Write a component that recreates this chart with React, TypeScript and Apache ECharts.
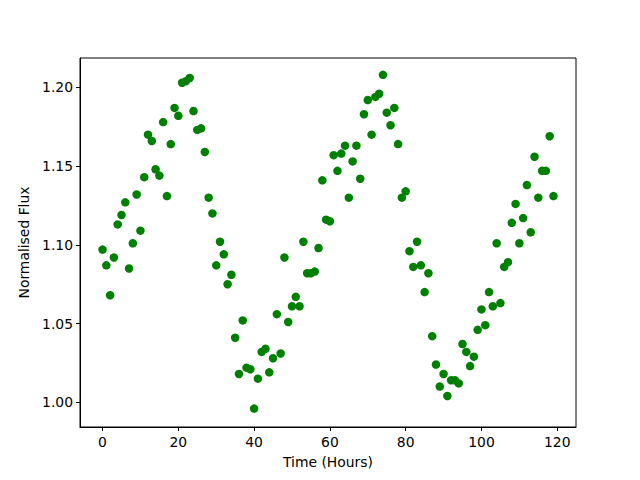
import React, { useEffect, useRef } from "react";
import * as echarts from "echarts";

const hours: number[] = Array.from({ length: 120 }, (_, i) => i);
const flux: number[] = [
  1.097, 1.087, 1.068, 1.092, 1.113, 1.119, 1.127, 1.085, 1.101, 1.132,
  1.109, 1.143, 1.170, 1.166, 1.148, 1.144, 1.178, 1.131, 1.164, 1.187,
  1.182, 1.203, 1.204, 1.206, 1.185, 1.173, 1.174, 1.159, 1.130, 1.120,
  1.087, 1.102, 1.094, 1.075, 1.081, 1.041, 1.018, 1.052, 1.022, 1.021,
  0.996, 1.015, 1.032, 1.034, 1.019, 1.028, 1.056, 1.031, 1.092, 1.051,
  1.061, 1.067, 1.061, 1.102, 1.082, 1.082, 1.083, 1.098, 1.141, 1.116,
  1.115, 1.157, 1.147, 1.158, 1.163, 1.130, 1.153, 1.163, 1.142, 1.183,
  1.192, 1.170, 1.194, 1.196, 1.208, 1.184, 1.176, 1.187, 1.164, 1.130,
  1.134, 1.096, 1.086, 1.102, 1.087, 1.070, 1.082, 1.042, 1.024, 1.010,
  1.018, 1.004, 1.014, 1.014, 1.012, 1.037, 1.032, 1.023, 1.029, 1.046,
  1.059, 1.049, 1.070, 1.061, 1.101, 1.063, 1.086, 1.089, 1.114, 1.126,
  1.101, 1.117, 1.138, 1.108, 1.156, 1.130, 1.147, 1.147, 1.169, 1.131,
];
const xTicks: number[] = [0, 20, 40, 60, 80, 100, 120];
const yTicks: number[] = [1.0, 1.05, 1.1, 1.15, 1.2];

const FONT = "DejaVu Sans";

export default function App() {
  const ref = useRef<HTMLDivElement>(null);
  useEffect(() => {
    if (!ref.current) return;
    const chart = echarts.init(ref.current, null, { renderer: "svg" });
    chart.setOption({
      animation: false,
      backgroundColor: "#ffffff",
      textStyle: { fontFamily: FONT },
      grid: {
        left: 80,
        right: 64,
        top: 58,
        bottom: 53,
        show: true,
        borderColor: "#000",
        borderWidth: 1,
        backgroundColor: "transparent",
      },
      xAxis: {
        type: "value",
        min: -5.95,
        max: 124.95,
        name: "Time (Hours)",
        nameLocation: "middle",
        nameGap: 28,
        nameTextStyle: { color: "#000", fontSize: 13.9, fontFamily: FONT },
        axisLine: { show: true, onZero: false, lineStyle: { color: "#000", width: 1 } },
        axisTick: { show: true, length: 4, lineStyle: { color: "#000" }, customValues: xTicks },
        axisLabel: {
          color: "#000",
          fontSize: 13.9,
          fontFamily: FONT,
          margin: 8,
          customValues: xTicks,
          formatter: (v: number) => String(v),
        },
        splitLine: { show: false },
      },
      yAxis: {
        type: "value",
        min: 0.9843,
        max: 1.2187,
        name: "Normalised Flux",
        nameLocation: "middle",
        nameGap: 47,
        nameTextStyle: { color: "#000", fontSize: 13.9, fontFamily: FONT },
        axisLine: { show: true, onZero: false, lineStyle: { color: "#000", width: 1 } },
        axisTick: { show: true, length: 4, lineStyle: { color: "#000" }, customValues: yTicks },
        axisLabel: {
          color: "#000",
          fontSize: 13.9,
          fontFamily: FONT,
          margin: 7,
          customValues: yTicks,
          formatter: (v: number) => v.toFixed(2),
        },
        splitLine: { show: false },
      },
      series: [
        {
          type: "scatter",
          data: hours.map((h, i) => [h, flux[i]]),
          symbol: "circle",
          symbolSize: 8.5,
          itemStyle: { color: "#008000", opacity: 1 },
        },
      ],
    });
    return () => chart.dispose();
  }, []);
  return <div ref={ref} style={{ width: 640, height: 480, position: "absolute", left: 0, top: 0 }} />;
}
